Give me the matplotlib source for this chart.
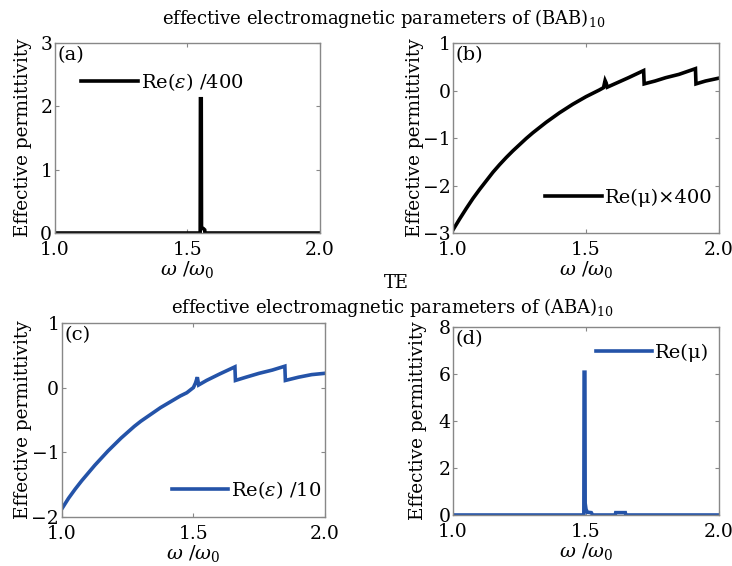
import matplotlib
matplotlib.use("Agg")
import matplotlib.pyplot as plt

plt.rcParams['font.family'] = 'DejaVu Serif'
plt.rcParams['mathtext.fontset'] = 'dejavuserif'

BLUE = '#2453a8'

# (a) Re(eps)/400 for (BAB)10
omega_a = [1.0, 1.548, 1.549, 1.552, 1.553, 1.56, 1.565, 1.566, 2.0]
eps_a = [0.0, 0.0, 2.12, 2.12, 0.08, 0.07, 0.05, 0.0, 0.0]

# (b) Re(mu)x400 for (BAB)10
omega_b = [1.0, 1.025, 1.05, 1.075, 1.1, 1.125, 1.15, 1.175, 1.2, 1.225,
           1.25, 1.275, 1.3, 1.325, 1.35, 1.375, 1.4, 1.425, 1.45, 1.475,
           1.5, 1.525, 1.55, 1.566, 1.572, 1.576, 1.58, 1.62, 1.66, 1.717,
           1.719, 1.76, 1.80, 1.85, 1.912, 1.914, 1.95, 2.0]
mu_b = [-2.93, -2.7, -2.48, -2.27, -2.08, -1.9, -1.72, -1.56, -1.41, -1.27,
        -1.14, -1.01, -0.89, -0.78, -0.67, -0.57, -0.47, -0.38, -0.29, -0.21,
        -0.13, -0.06, 0.01, 0.06, 0.21, 0.16, 0.07, 0.17, 0.27, 0.42,
        0.14, 0.2, 0.27, 0.34, 0.46, 0.14, 0.2, 0.26]

# (c) Re(eps)/10 for (ABA)10
omega_c = [1.0, 1.025, 1.05, 1.075, 1.1, 1.125, 1.15, 1.175, 1.2, 1.225,
           1.25, 1.275, 1.3, 1.325, 1.35, 1.375, 1.4, 1.425, 1.45, 1.475,
           1.5, 1.508, 1.515, 1.52, 1.55, 1.6, 1.658, 1.66, 1.7, 1.75,
           1.8, 1.848, 1.85, 1.9, 1.95, 2.0]
eps_c = [-1.87, -1.71, -1.57, -1.44, -1.32, -1.2, -1.09, -0.98, -0.88, -0.78,
         -0.69, -0.6, -0.52, -0.45, -0.38, -0.31, -0.25, -0.19, -0.13, -0.08,
         0.0, 0.07, 0.16, 0.04, 0.11, 0.21, 0.32, 0.11, 0.16, 0.22,
         0.27, 0.33, 0.11, 0.16, 0.2, 0.22]

# (d) Re(mu) for (ABA)10
omega_d = [1.0, 1.492, 1.493, 1.496, 1.497, 1.50, 1.505, 1.52, 1.525, 1.61,
           1.612, 1.648, 1.65, 2.0]
mu_d = [0.0, 0.0, 6.08, 6.08, 0.5, 0.25, 0.12, 0.1, 0.0, 0.0, 0.1, 0.1,
        0.0, 0.0]

panels = [
    # x, y, color, label, tag, ylim, yticks, legend anchor, axes rect,
    # ylabel x position
    (omega_a, eps_a, 'black', r'Re($\varepsilon$) /400', '(a)', (0, 3),
     [0, 1, 2, 3], (0.10, 0.795), [0.0751, 0.5883, 0.362, 0.3357], -0.085),
    (omega_b, mu_b, 'black', 'Re(μ)×400', '(b)', (-3, 1),
     [-3, -2, -1, 0, 1], (0.347, 0.184), [0.619, 0.5883, 0.363, 0.3357],
     -0.11),
    (omega_c, eps_c, BLUE, r'Re($\varepsilon$) /10', '(c)', (-2, 1),
     [-2, -1, 0, 1], (0.418, 0.139), [0.0847, 0.0866, 0.359, 0.343],
     -0.114),
    (omega_d, mu_d, BLUE, 'Re(μ)', '(d)', (0, 8),
     [0, 2, 4, 6, 8], (0.536, 0.862), [0.619, 0.0901, 0.363, 0.332],
     -0.1),
]

fig = plt.figure(figsize=(7.32, 5.66), dpi=100)

for x, y, color, label, tag, ylim, yticks, anchor, rect, ylx in panels:
    ax = fig.add_axes(rect)
    ax.plot(x, y, color=color, lw=2.6, label=label, solid_joinstyle='miter')
    ax.set_xlim(1.0, 2.0)
    ax.set_ylim(*ylim)
    ax.set_xticks([1.0, 1.5, 2.0])
    ax.set_xticklabels(['1.0', '1.5', '2.0'])
    ax.set_yticks(yticks)
    ax.set_yticklabels([str(t).replace('-', '−') for t in yticks])
    ax.tick_params(direction='in', top=True, right=True, length=3,
                   width=0.8, color='#888888', labelsize=13.5, pad=2)
    ax.tick_params(axis='x', pad=6)
    for sp in ax.spines.values():
        sp.set_color('#888888')
        sp.set_linewidth(1.0)
    ax.set_xlabel(r'$\omega$ /$\omega_0$', fontsize=14, labelpad=0)
    ax.set_ylabel('Effective permittivity', fontsize=13.3)
    ax.yaxis.set_label_coords(ylx, 0.5)
    ax.text(0.01, 0.985, tag, transform=ax.transAxes, va='top', ha='left',
            fontsize=14)
    ax.legend(loc='center left', bbox_to_anchor=anchor, frameon=False,
              fontsize=14, handlelength=2.9, handletextpad=0.15,
              borderpad=0, borderaxespad=0)

fig.text(0.524, 0.968, r'effective electromagnetic parameters of (BAB)$_{10}$',
         ha='center', va='center', fontsize=13)
fig.text(0.536, 0.456, r'effective electromagnetic parameters of (ABA)$_{10}$',
         ha='center', va='center', fontsize=13)
fig.text(0.542, 0.500, 'TE', ha='center', va='center', fontsize=13)

fig.savefig('out.png', dpi=100)
